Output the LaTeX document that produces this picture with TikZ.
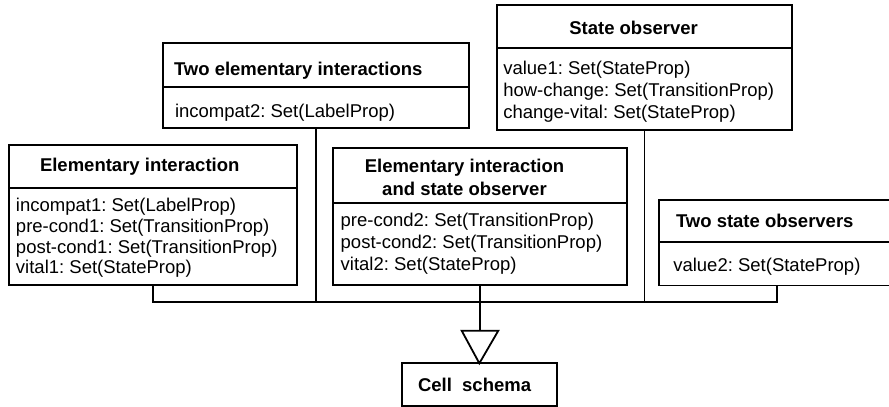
\documentclass[tikz,border=0pt]{standalone}
\usepackage{fontspec}
\setmainfont{Liberation Sans}
\frenchspacing
\begin{document}
\begin{tikzpicture}[x=1pt,y=-1pt,
  box/.style={draw,line width=1.8pt,inner sep=0pt,outer sep=0pt,rectangle},
  ln/.style={line width=1.8pt},
  txt/.style={inner sep=0pt,outer sep=0pt,font=\fontsize{18.5}{21}\selectfont},
  ttl/.style={txt,font=\fontsize{18.5}{21}\selectfont\bfseries}]
\useasboundingbox (0,0) rectangle (889,407);
\clip (0,0) rectangle (889,407);
% boxes
\node[box,minimum width=306.3pt,minimum height=85.3pt] (te) at (315.85,85.35) {};
\node[box,minimum width=287.7pt,minimum height=140pt] (ei) at (153.15,215) {};
\node[box,minimum width=294.6pt,minimum height=137.3pt] (eiso) at (480,216.35) {};
\node[box,minimum width=294.4pt,minimum height=124.7pt] (so) at (644.5,67.65) {};
\node[box,minimum width=234.7pt,minimum height=85.5pt] (tso) at (776.65,242.75) {};
\node[box,minimum width=154.7pt,minimum height=42.7pt] (cell) at (479.35,384.65) {};
% dividers
\draw[ln] (te.west |- 0,87) -- (te.east |- 0,87);
\draw[ln] (ei.west |- 0,188) -- (ei.east |- 0,188);
\draw[ln] (eiso.west |- 0,202.7) -- (eiso.east |- 0,202.7);
\draw[ln] (so.west |- 0,48.3) -- (so.east |- 0,48.3);
\draw[ln] (tso.west |- 0,242) -- (tso.east |- 0,242);
% titles
\node[ttl,anchor=base west] (teT) at (174,75) {Two elementary interactions};
\node[ttl,anchor=base west] (eiT) at (40,171.7) {Elementary interaction};
\node[ttl,anchor=base] (eisoT1) at (464.5,172.3) {Elementary interaction};
\node[ttl,anchor=base] (eisoT2) at (464.5,195) {and state observer};
\node[ttl,anchor=base west] (soT) at (569.3,34) {State observer};
\node[ttl,anchor=base west] (tsoT) at (676,227.6) {Two state observers};
\node[ttl,anchor=base west] (cellT) at (418,391) {Cell\ \ schema};
% bodies
\node[txt,anchor=base west] (te1) at (175,117.3) {incompat2: Set(LabelProp)};
\node[txt,anchor=base west] (ei1) at (16,211.7) {incompat1: Set(LabelProp)};
\node[txt,anchor=base west] (ei2) at (16,232.4) {pre-cond1: Set(TransitionProp)};
\node[txt,anchor=base west] (ei3) at (16,253.1) {post-cond1: Set(TransitionProp)};
\node[txt,anchor=base west] (ei4) at (16,273.8) {vital1: Set(StateProp)};
\node[txt,anchor=base west] (eiso1) at (340.7,226.7) {pre-cond2: Set(TransitionProp)};
\node[txt,anchor=base west] (eiso2) at (340.7,248.7) {post-cond2: Set(TransitionProp)};
\node[txt,anchor=base west] (eiso3) at (340.7,270.7) {vital2: Set(StateProp)};
\node[txt,anchor=base west] (so1) at (503.3,74) {value1: Set(StateProp)};
\node[txt,anchor=base west] (so2) at (503.3,96.2) {how-change: Set(TransitionProp)};
\node[txt,anchor=base west] (so3) at (503.3,118.3) {change-vital: Set(StateProp)};
\node[txt,anchor=base west] (tso1) at (673.3,271.2) {value2: Set(StateProp)};
% connectors
\coordinate (bus) at (480,302.3);
\coordinate (tl) at (461.7,330.7);
\coordinate (tr) at (498.3,330.7);
\coordinate (tm) at (480,330.7);
\draw[ln] (ei.south) |- (bus) -| (tso.south);
\draw[ln] (te.south) -- (te.south |- bus);
\draw[ln] (so.south) -- (so.south |- bus);
\draw[ln] (eiso.south) -- (tm);
\draw[ln,line join=miter] (tl) -- (tr) -- (cell.north) -- cycle;
\end{tikzpicture}
\end{document}
